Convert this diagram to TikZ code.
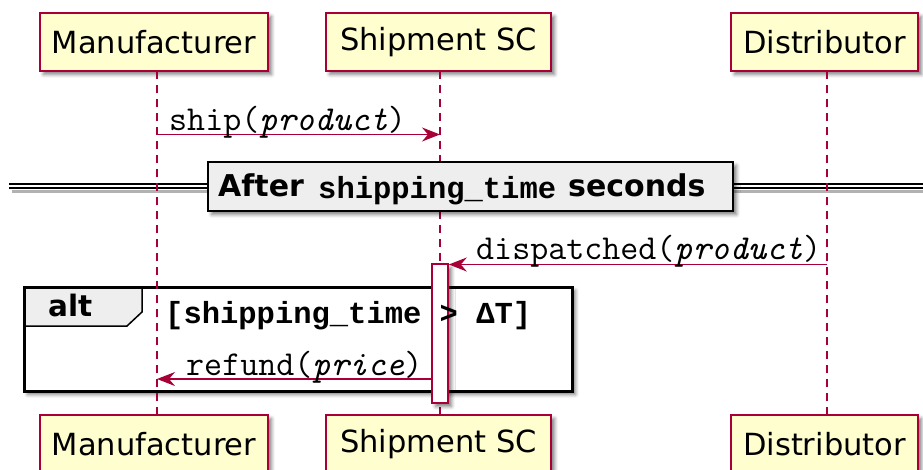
\documentclass[tikz,border=0pt]{standalone}
\usepackage{fontspec}
\setmainfont{DejaVu Sans}
\newfontfamily\bmono{Liberation Mono}
\usetikzlibrary{arrows.meta,shadows,shadows.blur}
\definecolor{pfill}{HTML}{FEFECE}
\definecolor{pbord}{HTML}{A80036}
\definecolor{tabgray}{HTML}{EEEEEE}
\begin{document}
\begin{tikzpicture}[x=1pt,y=-1pt,
  shad/.style={blur shadow={shadow xshift=3.5pt,shadow yshift=-3.5pt,shadow blur radius=3.5pt,shadow opacity=50}},
  part/.style={draw=pbord,fill=pfill,line width=2.2pt,minimum height=58pt,inner sep=0pt,
    font=\fontsize{30.5}{36}\selectfont,shad},
  life/.style={draw=pbord,line width=1.8pt,dash pattern=on 8pt off 6pt},
  msg/.style={draw=pbord,line width=1.6pt,-{Stealth[length=18pt,width=14pt,inset=6pt]}},
  msgtxt/.style={anchor=base west,inner sep=0pt,font=\fontsize{35}{40}\selectfont\ttfamily},
  actbar/.style={draw=pbord,fill=white,line width=1.6pt,minimum width=16pt,minimum height=139pt,inner sep=0pt,shad},
  divbox/.style={draw=black,fill=tabgray,line width=2.2pt,minimum width=525pt,minimum height=49pt,inner sep=0pt,shad},
  boldsans/.style={anchor=base west,inner sep=0pt,font=\fontsize{30}{36}\selectfont\bfseries},
  boldmono/.style={anchor=base west,inner sep=0pt,font=\fontsize{30.5}{36}\selectfont\bmono\bfseries}
]
\useasboundingbox (0,0) rectangle (923,470);

% participants
\node[part,minimum width=228pt] (mtop) at (154,42) {Manufacturer};
\node[part,minimum width=225pt] (stop) at (438.5,42) {Shipment SC};
\node[part,minimum width=187pt] (dtop) at (824.5,42) {Distributor};
\node[part,minimum width=228pt] (mbot) at (154,444) {Manufacturer};
\node[part,minimum width=225pt] (sbot) at (438.5,444) {Shipment SC};
\node[part,minimum width=187pt] (dbot) at (824.5,444) {Distributor};

% alt frame (fill + tab + border)
\fill[white,shad] (24,287) rectangle (572,391);
\draw[fill=tabgray,line width=1.5pt] (24,287) -- (142,287) -- (142,312) -- (127,326) -- (24,326) -- cycle;
\draw[line width=3pt] (24,287) rectangle (572,391);

% divider double line
\draw[black!30,line width=3.5pt] (12,191.3) -- (923,191.3);
\draw[black,line width=6pt] (9,186.3) -- (923,186.3);
\draw[white,line width=2.4pt] (9,186.3) -- (923,186.3);

% lifelines
\coordinate (m1) at (157,71);  \coordinate (m2) at (157,415);
\coordinate (s1) at (440,71);  \coordinate (s2) at (440,415);
\coordinate (d1) at (827,71);  \coordinate (d2) at (827,415);
\draw[life] (m1) -- (m2);
\draw[life] (s1) -- (s2);
\draw[life] (d1) -- (d2);

% divider box
\node[divbox] (div) at (470.5,186.5) {};
\node[boldsans] (divA) at (218,196.5) {After};
\node[boldmono] (divB) at (318,199) {shipping\_time};
\node[boldsans] (divC) at (568,196.5) {seconds};

% activation bar
\node[actbar] (act) at (440,333.5) {};

% messages
\coordinate (shipA) at (157,134.5);
\coordinate (shipB) at (440,134.5);
\draw[msg] (shipA) -- (shipB);
\node[msgtxt] (shiptxt) at (169,130.5) {ship(\textit{product})};

\coordinate (dispA) at (827,264.5);
\draw[msg] (dispA) -- (act.east |- dispA);
\node[msgtxt] (disptxt) at (476,260) {dispatched(\textit{product})};

\coordinate (refB) at (157,379);
\draw[msg] (act.west |- refB) -- (refB);
\node[msgtxt] (reftxt) at (186,375) {refund(\textit{price})};

% alt labels
\node[anchor=base west,inner sep=0pt,font=\fontsize{29.5}{34}\selectfont\bfseries] (alttxt) at (48,316) {alt};
\node[boldmono] (condtxt) at (165,323) {[shipping\_time > ΔT]};
\end{tikzpicture}
\end{document}
